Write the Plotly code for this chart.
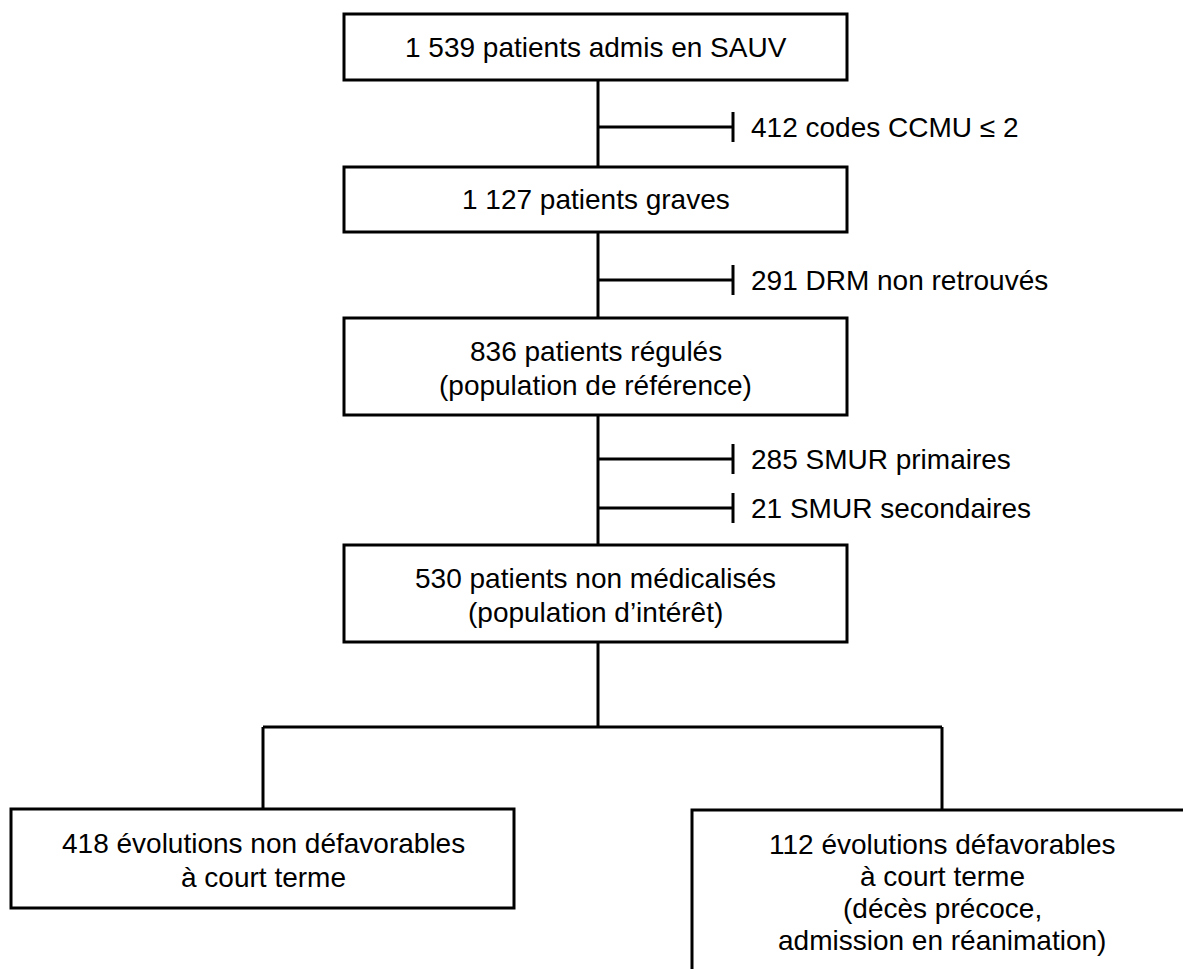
import plotly.graph_objects as go

# ---- content ----
main_counts = [1539, 1127, 836, 530]
main_text = [
    ["patients admis en SAUV"],
    ["patients graves"],
    ["patients régulés", "(population de référence)"],
    ["patients non médicalisés", "(population d’intérêt)"],
]
excl_counts = [412, 291, 285, 21]
excl_text = ["codes CCMU ≤ 2", "DRM non retrouvés", "SMUR primaires", "SMUR secondaires"]
outcome_counts = [418, 112]
outcome_text = [
    ["évolutions non défavorables", "à court terme"],
    ["évolutions défavorables", "à court terme", "(décès précoce,", "admission en réanimation)"],
]

# ---- layout geometry (page pixels, y downward) ----
W, H = 1183, 969
main_x = (344, 847)
main_y = [(14, 80), (167, 232), (318, 415), (545, 642)]
spine_x = 598
excl_y = [127, 280, 459, 508]
excl_end = 733
tick_half = 15
excl_label_x = 749
split_y = 727
out_boxes = [(11, 514, 809, 908), (692, 1200, 810, 1010)]
out_cx = [263, 942]
LINE = 34
OUT_LINE = [34, 32]
LW = 3
FONT = dict(family="Liberation Sans, Arial, sans-serif", size=28, color="black")


def fmt(n):
    return f"{n:,}".replace(",", " ")


fig = go.Figure()
shapes = []
annotations = []


def line(x0, y0, x1, y1):
    shapes.append(dict(type="line", xref="x", yref="y", x0=x0, y0=y0, x1=x1, y1=y1,
                       line=dict(color="black", width=LW)))


def rect(x0, x1, y0, y1):
    shapes.append(dict(type="rect", xref="x", yref="y", x0=x0, y0=y0, x1=x1, y1=y1,
                       line=dict(color="black", width=LW), fillcolor="rgba(0,0,0,0)"))


def text(x, y, s, anchor="center"):
    annotations.append(dict(x=x, y=y, xref="x", yref="y", text=s, showarrow=False,
                            xanchor=anchor, yanchor="middle", font=FONT))


# main boxes
for i, (cnt, lines) in enumerate(zip(main_counts, main_text)):
    y0, y1 = main_y[i]
    rect(main_x[0], main_x[1], y0, y1)
    lines = [f"{fmt(cnt)} {lines[0]}"] + lines[1:]
    n = len(lines)
    cy = (y0 + y1) / 2 + (2 if n > 1 else 0)
    for k, s in enumerate(lines):
        text((main_x[0] + main_x[1]) / 2, cy + (k - (n - 1) / 2) * LINE, s)
    if i < len(main_y) - 1:
        line(spine_x, y1, spine_x, main_y[i + 1][0])

# exclusions
for cnt, lab, y in zip(excl_counts, excl_text, excl_y):
    line(spine_x, y, excl_end, y)
    line(excl_end, y - tick_half, excl_end, y + tick_half)
    text(excl_label_x, y, f"{fmt(cnt)} {lab}", anchor="left")

# split
line(spine_x, main_y[-1][1], spine_x, split_y)
line(out_cx[0], split_y, out_cx[1], split_y)
for j, (cnt, lines) in enumerate(zip(outcome_counts, outcome_text)):
    x0, x1, y0, y1 = out_boxes[j]
    line(out_cx[j], split_y, out_cx[j], y0)
    rect(x0, x1, y0, y1)
    lines = [f"{fmt(cnt)} {lines[0]}"] + lines[1:]
    for k, s in enumerate(lines):
        text(out_cx[j], y0 + 34 + k * OUT_LINE[j], s)

fig.update_layout(
    width=W, height=H,
    margin=dict(l=0, r=0, t=0, b=0),
    paper_bgcolor="white", plot_bgcolor="white",
    xaxis=dict(range=[0, W], visible=False, fixedrange=True),
    yaxis=dict(range=[H, 0], visible=False, fixedrange=True),
    shapes=shapes, annotations=annotations, showlegend=False,
)
fig.write_html(
    "out.html",
    config={"displayModeBar": False},
    post_script="document.body.style.margin='0';document.body.style.overflow='hidden';",
)
